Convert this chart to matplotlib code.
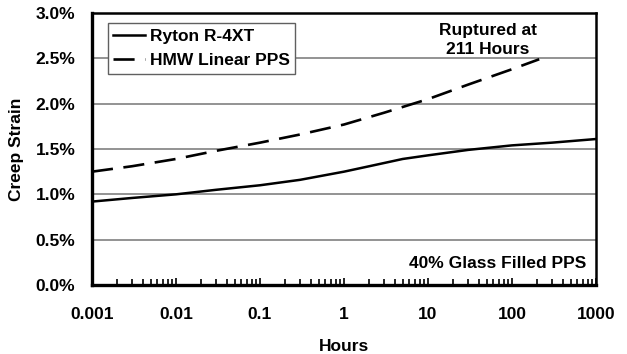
import numpy as np
import matplotlib.pyplot as plt
from matplotlib.ticker import LogLocator, NullFormatter

plt.rcParams['font.family'] = ['Liberation Sans', 'DejaVu Sans']
plt.rcParams['font.weight'] = 'bold'

# data
hours = [0.001, 0.003, 0.01, 0.03, 0.1, 0.3, 1, 2, 5, 10, 30, 100, 300, 1000]
ryton = [0.92, 0.96, 1.00, 1.05, 1.10, 1.16, 1.25, 1.31, 1.39, 1.43, 1.49, 1.54, 1.57, 1.61]
hmw_hours = [0.001, 0.003, 0.01, 0.03, 0.1, 0.3, 1, 3, 10, 30, 100, 211]
hmw = [1.25, 1.31, 1.39, 1.48, 1.57, 1.66, 1.77, 1.90, 2.05, 2.21, 2.38, 2.49]
yticks = [0.0, 0.5, 1.0, 1.5, 2.0, 2.5, 3.0]
xticks = [0.001, 0.01, 0.1, 1, 10, 100, 1000]
xlabels = ['0.001', '0.01', '0.1', '1', '10', '100', '1000']

fig = plt.figure(figsize=(6.27, 3.54), dpi=100)
ax = fig.add_axes([92/627, 1-285/354, 504/627, 272/354])

ax.plot(hours, ryton, color='black', lw=1.8, label='Ryton R-4XT')
ax.plot(hmw_hours, hmw, color='black', lw=1.9, dashes=(8, 4), label='HMW Linear PPS')

ax.set_xscale('log')
ax.set_xlim(0.001, 1000)
ax.set_ylim(0, 3)
ax.set_xticks(xticks)
ax.set_xticklabels(xlabels)
ax.xaxis.set_minor_locator(LogLocator(base=10, subs=np.arange(2, 10)))
ax.xaxis.set_minor_formatter(NullFormatter())
ax.set_yticks(yticks)
ax.set_yticklabels(['%.1f%%' % v for v in yticks])
ax.yaxis.grid(True, color='#808080', lw=1.2)
ax.set_axisbelow(True)
ax.tick_params(axis='x', which='major', direction='in', length=5, width=1.2, pad=16, labelsize=12.5)
ax.tick_params(axis='x', which='minor', direction='in', length=4, width=1.2)
ax.tick_params(axis='y', length=0, pad=12, labelsize=12.5)
for s in ax.spines.values():
    s.set_linewidth(1.8)
ax.spines['left'].set_linewidth(2.4)
ax.spines['bottom'].set_linewidth(2.4)

ax.set_xlabel('Hours', fontsize=12.5, fontweight='bold', labelpad=12)
ax.set_ylabel('Creep Strain', fontsize=12.5, fontweight='bold', labelpad=8)

leg = ax.legend(loc='upper left', bbox_to_anchor=(0.025, 0.975), fontsize=12.5,
                frameon=True, fancybox=False, edgecolor='#606060', framealpha=1,
                handlelength=1.85, borderpad=0.3, labelspacing=0.55, handletextpad=0.25,
                borderaxespad=0.2)
leg.get_frame().set_linewidth(1.0)

ax.text(0.785, 0.965, 'Ruptured at\n211 Hours', transform=ax.transAxes, ha='center', va='top',
        fontsize=12.5, fontweight='bold', linespacing=1.4)
ax.text(0.98, 0.08, '40% Glass Filled PPS', transform=ax.transAxes, ha='right', va='center',
        fontsize=12.5, fontweight='bold')

fig.savefig('out.png', dpi=100)
